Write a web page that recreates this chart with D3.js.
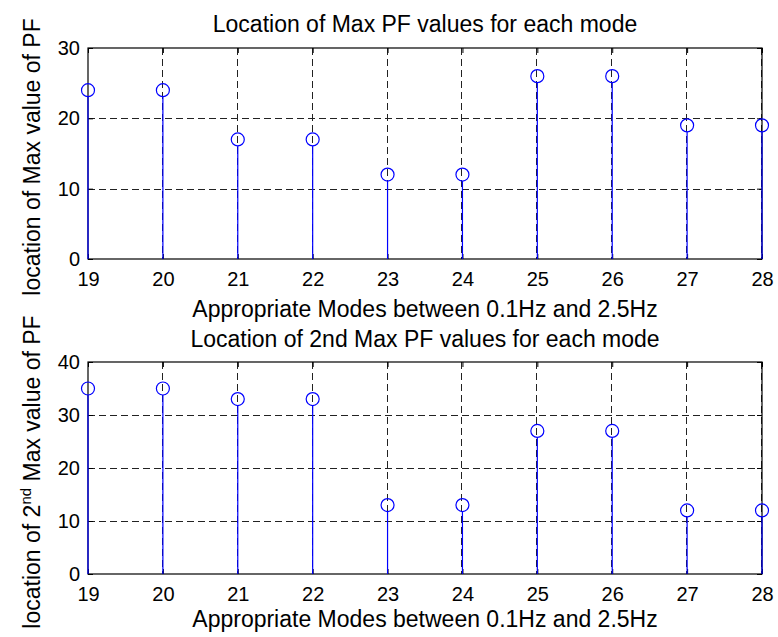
<!DOCTYPE html>
<html>
<head>
<meta charset="utf-8">
<script src="https://cdn.jsdelivr.net/npm/d3@7"></script>
<style>
  body { margin: 0; background: #fff; }
  text { font-family: "Liberation Sans", Arial, sans-serif; fill: #000; }
</style>
</head>
<body>
<svg id="mysvg" width="778" height="637"></svg>
<script>
// data
var modes = [19, 20, 21, 22, 23, 24, 25, 26, 27, 28];
var maxLoc = [24, 24, 17, 17, 12, 12, 26, 26, 19, 19];
var secondLoc = [35, 35, 33, 33, 13, 13, 27, 27, 12, 12];
var yTicksTop = [0, 10, 20, 30];
var yTicksBottom = [0, 10, 20, 30, 40];
var xTitle = "Appropriate Modes between 0.1Hz and 2.5Hz";

var svg = d3.select("#mysvg");

function drawPanel(opts) {
  var left = 88, right = 762;
  var top = opts.top, bottom = opts.bottom;

  var xScale = d3.scaleLinear().domain([19, 28]).range([left, right]);
  var yScale = d3.scaleLinear().domain([0, opts.yMax]).range([bottom, top]);

  var g = svg.append("g");

  // dashed grid
  g.selectAll(".vgrid").data(modes.slice(1)).enter().append("line")
    .attr("x1", function (d) { return Math.round(xScale(d)) - 0.5; })
    .attr("x2", function (d) { return Math.round(xScale(d)) - 0.5; })
    .attr("y1", top).attr("y2", bottom)
    .attr("stroke", "#222").attr("stroke-width", 1)
    .attr("stroke-dasharray", "7,4");
  g.selectAll(".hgrid").data(opts.yTicks.slice(1, -1)).enter().append("line")
    .attr("x1", left).attr("x2", right)
    .attr("y1", function (d) { return Math.round(yScale(d)) + 0.5; })
    .attr("y2", function (d) { return Math.round(yScale(d)) + 0.5; })
    .attr("stroke", "#222").attr("stroke-width", 1)
    .attr("stroke-dasharray", "7,4");

  // axes (ticks inward)
  g.append("g")
    .attr("transform", "translate(0," + bottom + ")")
    .call(d3.axisBottom(xScale).tickValues(modes).tickSize(-5).tickPadding(9).tickFormat(d3.format("d")))
    .call(function (a) {
      a.select(".domain").remove();
      a.selectAll("text").attr("font-size", 20).attr("font-family", "Liberation Sans, Arial, sans-serif").attr("dy", "0.9em");
      a.selectAll("line").attr("stroke", "#000");
    });
  g.append("g")
    .attr("transform", "translate(0," + top + ")")
    .call(d3.axisTop(xScale).tickValues(modes).tickSize(-5).tickFormat(""))
    .call(function (a) { a.select(".domain").remove(); a.selectAll("line").attr("stroke", "#000"); });
  g.append("g")
    .attr("transform", "translate(" + left + ",0)")
    .call(d3.axisLeft(yScale).tickValues(opts.yTicks).tickSize(-5).tickPadding(8))
    .call(function (a) {
      a.select(".domain").remove();
      a.selectAll("text").attr("font-size", 20).attr("font-family", "Liberation Sans, Arial, sans-serif");
      a.selectAll("line").attr("stroke", "#000");
    });
  g.append("g")
    .attr("transform", "translate(" + right + ",0)")
    .call(d3.axisRight(yScale).tickValues(opts.yTicks).tickSize(-5).tickFormat(""))
    .call(function (a) { a.select(".domain").remove(); a.selectAll("line").attr("stroke", "#000"); });

  g.append("rect")
    .attr("x", left).attr("y", top)
    .attr("width", right - left).attr("height", bottom - top)
    .attr("fill", "none").attr("stroke", "#000").attr("stroke-width", 1.2);

  // stems
  g.selectAll(".stem").data(opts.values).enter().append("line")
    .attr("x1", function (d, i) { return xScale(modes[i]); })
    .attr("x2", function (d, i) { return xScale(modes[i]); })
    .attr("y1", yScale(0))
    .attr("y2", function (d) { return yScale(d) + 6.5; })
    .attr("stroke", "#0000ff").attr("stroke-width", 1.2);
  g.selectAll(".mark").data(opts.values).enter().append("circle")
    .attr("cx", function (d, i) { return xScale(modes[i]); })
    .attr("cy", function (d) { return yScale(d); })
    .attr("r", 6.5)
    .attr("fill", "none").attr("stroke", "#0000ff").attr("stroke-width", 1.2);

  // texts
  svg.append("text").attr("x", (left + right) / 2).attr("y", opts.titleY)
    .attr("text-anchor", "middle").attr("font-size", 23).text(opts.title);
  svg.append("text").attr("x", (left + right) / 2).attr("y", opts.xlabelY)
    .attr("text-anchor", "middle").attr("font-size", 23).text(xTitle);

  var yl = svg.append("text")
    .attr("transform", "translate(40," + opts.ylabelY + ") rotate(-90)")
    .attr("text-anchor", "middle").attr("font-size", 23);
  opts.ylabel(yl);
}

drawPanel({
  top: 48, bottom: 259, yMax: 30, yTicks: yTicksTop, values: maxLoc,
  title: "Location of Max PF values for each mode",
  titleY: 32, xlabelY: 317, ylabelY: 157,
  ylabel: function (t) { t.text("location of Max value of PF"); }
});

drawPanel({
  top: 362, bottom: 574, yMax: 40, yTicks: yTicksBottom, values: secondLoc,
  title: "Location of 2nd Max PF values for each mode",
  titleY: 347, xlabelY: 627, ylabelY: 472,
  ylabel: function (t) {
    t.append("tspan").text("location of 2");
    t.append("tspan").attr("font-size", 15).attr("dy", -9).text("nd");
    t.append("tspan").attr("dy", 9).text(" Max value of PF");
  }
});
</script>
</body>
</html>
